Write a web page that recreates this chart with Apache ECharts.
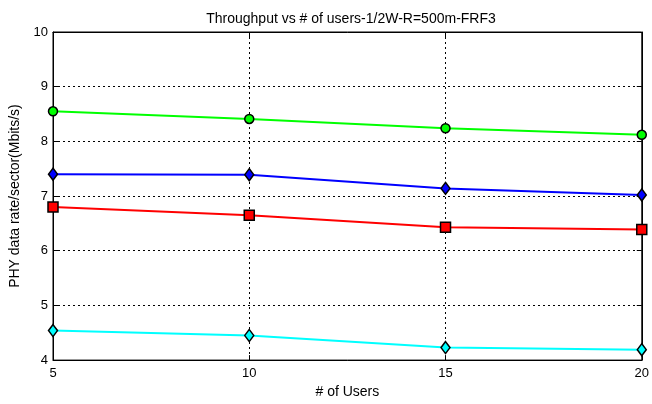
<!DOCTYPE html>
<html><head><meta charset="utf-8">
<script src="https://cdn.jsdelivr.net/npm/echarts@6/dist/echarts.min.js"></script>
<style>html,body{margin:0;padding:0;background:#fff}#c{width:652px;height:404px}</style>
</head><body><div id="c"></div>
<script>
const users = [5, 10, 15, 20];
const greenSeries = [8.55, 8.41, 8.24, 8.12];
const blueSeries = [7.40, 7.39, 7.14, 7.02];
const redSeries = [6.80, 6.65, 6.43, 6.39];
const cyanSeries = [4.54, 4.45, 4.23, 4.19];
const titleText = 'Throughput vs # of users-1/2W-R=500m-FRF3';
const xName = '# of Users';
const yName = 'PHY data rate/sector(Mbits/s)';

const font = 'Liberation Sans, Arial, sans-serif';
function mk(vals, color, symbol, size) {
  return {
    type: 'line',
    data: users.map((u, i) => [u, vals[i]]),
    symbol: symbol,
    symbolSize: size,
    showSymbol: true,
    lineStyle: { color: color, width: 2 },
    itemStyle: { color: color, borderColor: '#000', borderWidth: 1.5 },
    z: 5
  };
}
const chart = echarts.init(document.getElementById('c'));
chart.setOption({
  animation: false,
  backgroundColor: '#fff',
  title: {
    text: titleText, left: 346, top: 7, textAlign: 'center',
    textStyle: { fontFamily: font, fontSize: 14, fontWeight: 'normal', color: '#000' }
  },
  grid: { left: 52, right: 8, top: 32, bottom: 41, show: true, borderColor: '#000', borderWidth: 1 },
  xAxis: [{
    type: 'value', min: 5, max: 20, interval: 5,
    name: xName, nameLocation: 'middle', nameGap: 23,
    nameTextStyle: { fontFamily: font, fontSize: 14, color: '#000' },
    axisLine: { show: true, lineStyle: { color: '#000' } },
    axisTick: { show: true, inside: true, length: 5, lineStyle: { color: '#000' } },
    axisLabel: { fontFamily: font, fontSize: 13, color: '#000', margin: 7 },
    splitLine: { show: true, lineStyle: { color: '#000', type: [2, 3], width: 1 } }
  }, {
    type: 'value', position: 'top', min: 5, max: 20, interval: 5,
    axisLine: { show: true, lineStyle: { color: '#000' } },
    axisTick: { show: true, inside: true, length: 5, lineStyle: { color: '#000' } },
    axisLabel: { show: false }, splitLine: { show: false }
  }],
  yAxis: [{
    type: 'value', min: 4, max: 10, interval: 1,
    name: yName, nameLocation: 'middle', nameGap: 31, nameRotate: 90,
    nameTextStyle: { fontFamily: font, fontSize: 14, color: '#000' },
    axisLine: { show: true, lineStyle: { color: '#000' } },
    axisTick: { show: true, inside: true, length: 5, lineStyle: { color: '#000' } },
    axisLabel: { fontFamily: font, fontSize: 13, color: '#000', margin: 5 },
    splitLine: { show: true, lineStyle: { color: '#000', type: [2, 3], width: 1 } }
  }, {
    type: 'value', position: 'right', min: 4, max: 10, interval: 1,
    axisLine: { show: true, lineStyle: { color: '#000' } },
    axisTick: { show: true, inside: true, length: 5, lineStyle: { color: '#000' } },
    axisLabel: { show: false }, splitLine: { show: false }
  }],
  series: [
    mk(greenSeries, '#00ff00', 'circle', 9),
    mk(blueSeries, '#0000ff', 'diamond', [9, 12]),
    mk(redSeries, '#ff0000', 'rect', 10),
    mk(cyanSeries, '#00ffff', 'diamond', [9, 12])
  ]
});
</script></body></html>
